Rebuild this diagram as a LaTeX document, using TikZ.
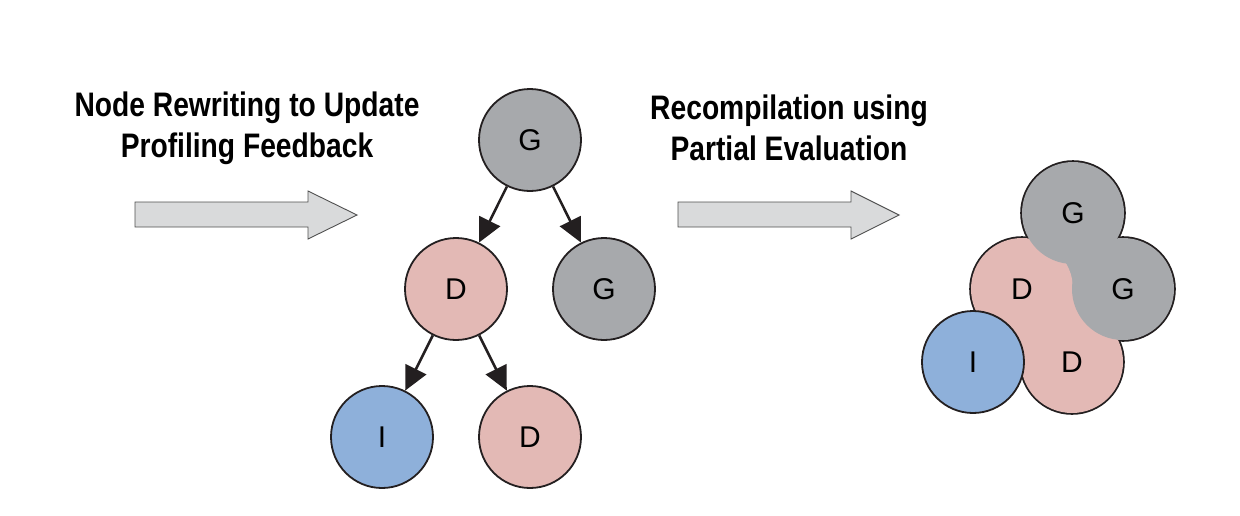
\documentclass[tikz,border=0pt]{standalone}
\usepackage{fontspec}
\setmainfont{Liberation Sans}
\newfontfamily\headfont{Liberation Sans}[FakeStretch=0.83]
\usetikzlibrary{arrows.meta}
\definecolor{ink}{HTML}{231F20}
\definecolor{grayc}{HTML}{A7A9AC}
\definecolor{pinkc}{HTML}{E3B9B5}
\definecolor{bluec}{HTML}{8EB0DA}
\definecolor{bfill}{HTML}{D9DADB}
\definecolor{bdraw}{HTML}{505050}
\begin{document}
\begin{tikzpicture}[x=1pt,y=-1pt,
  circ/.style={circle,minimum size=102pt,inner sep=0pt,line width=1.8pt,draw=ink,
    font=\fontsize{30}{30}\selectfont},
  gnode/.style={circ,fill=grayc},
  dnode/.style={circ,fill=pinkc},
  inode/.style={circ,fill=bluec},
  lbl/.style={inner sep=0pt,font=\fontsize{30}{30}\selectfont},
  edge/.style={line width=2.5pt,draw=ink,-{Triangle[length=24pt,width=23pt]}},
  block/.style={draw=bdraw,fill=bfill,line width=0.9pt},
  head/.style={align=center,font=\headfont\bfseries\fontsize{34}{41}\selectfont}]
\useasboundingbox (0,0) rectangle (1240,515);
% headings
\node[head] (h1) at (247,128) {Node Rewriting to Update\\Profiling Feedback};
\node[head] (h2) at (789,128) {Recompilation using\\Partial Evaluation};
% block arrows
\draw[block] (135,202) -- (308,202) -- (308,191) -- (357,215) -- (308,239) -- (308,227) -- (135,227) -- cycle;
\draw[block] (678,202) -- (851,202) -- (851,191) -- (899,215) -- (851,239) -- (851,227) -- (678,227) -- cycle;
% tree
\node[gnode] (g1) at (530,140) {G};
\node[dnode] (d1) at (456,289) {D};
\node[gnode] (g2) at (604,289) {G};
\node[inode] (i1) at (382,437) {I};
\node[dnode] (d2) at (530,437) {D};
\draw[edge] (g1) -- (d1);
\draw[edge] (g1) -- (g2);
\draw[edge] (d1) -- (i1);
\draw[edge] (d1) -- (d2);
% merged cluster
\coordinate (cg1) at (1073,213);
\coordinate (cd1) at (1022,289);
\coordinate (cg2) at (1123,289);
\coordinate (ci) at (973,362);
\coordinate (cd2) at (1072,362);
\foreach \c in {cd1,cd2,cg1,cg2} \draw[draw=ink,line width=3.6pt] (\c) circle (51);
\fill[grayc] (cg1) -- (cd1) -- (cg2) -- cycle;
\fill[pinkc] (cd1) -- (ci) -- (cd2) -- cycle;
\fill[pinkc] (cd1) -- (cd2) -- (cg2) -- cycle;
\fill[pinkc] (cd1) circle (51);
\fill[pinkc] (cd2) circle (51);
\fill[grayc] (cg1) circle (51);
\fill[grayc] (cg2) circle (51);
\draw[draw=ink,fill=bluec,line width=1.8pt] (ci) circle (51);
\node[lbl] (lg1) at (cg1) {G};
\node[lbl] (ld1) at (cd1) {D};
\node[lbl] (lg2) at (cg2) {G};
\node[lbl] (li) at (ci) {I};
\node[lbl] (ld2) at (cd2) {D};
\end{tikzpicture}
\end{document}
